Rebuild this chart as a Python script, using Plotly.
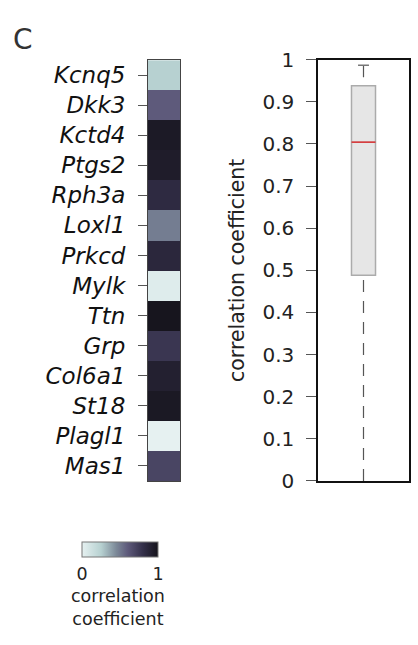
import plotly.graph_objects as go

genes = ["Kcnq5", "Dkk3", "Kctd4", "Ptgs2", "Rph3a", "Loxl1", "Prkcd",
         "Mylk", "Ttn", "Grp", "Col6a1", "St18", "Plagl1", "Mas1"]
corr = [0.25, 0.60, 0.955, 0.938, 0.838, 0.488, 0.86,
        0.04, 0.987, 0.77, 0.91, 0.96, 0.0, 0.70]

# boxplot summary
box_min = [0.0]
box_q1 = [0.488]
box_median = [0.804]
box_q3 = [0.938]
box_max = [0.987]

y_ticks = [0, 0.1, 0.2, 0.3, 0.4, 0.5, 0.6, 0.7, 0.8, 0.9, 1]
y_ticktext = ["0", "0.1", "0.2", "0.3", "0.4", "0.5", "0.6", "0.7", "0.8", "0.9", "1"]

FONT = "DejaVu Sans"
colorscale = [[0.0, "#e6f1f1"], [0.25, "#b7d1d1"], [0.45, "#7c8998"],
              [0.6, "#5e5a7b"], [0.8, "#34304a"], [1.0, "#15131b"]]

fig = go.Figure()

fig.add_trace(go.Heatmap(
    z=[[v] for v in corr], y=genes, x=[0],
    zmin=0, zmax=1, colorscale=colorscale,
    xaxis="x", yaxis="y",
    colorbar=dict(
        orientation="h", x=120/418, xanchor="center",
        y=1-551/645, yanchor="top", yref="paper",
        len=76, lenmode="pixels", thickness=15,
        outlinecolor="#777", outlinewidth=1,
        tickvals=[0, 1], ticktext=["0", "1"],
        ticks="outside", ticklen=2, tickcolor="rgba(0,0,0,0)",
        tickfont=dict(family=FONT, size=17.5, color="#222"),
        xpad=0, ypad=0,
    ),
    showscale=True,
))

# box (body only) from the summary
fig.add_trace(go.Box(
    x=[0], q1=box_q1, median=box_median, q3=box_q3,
    lowerfence=box_q1, upperfence=box_q3,
    width=0.264, fillcolor="#e6e6e6",
    line=dict(color="#ababab", width=1.5),
    xaxis="x2", yaxis="y2", showlegend=False, hoverinfo="skip",
))

# dashed whiskers
fig.add_trace(go.Scatter(
    x=[0, 0], y=[box_min[0], box_q1[0]], mode="lines",
    line=dict(color="#555", width=1.2, dash="12px,9px"),
    xaxis="x2", yaxis="y2", showlegend=False, hoverinfo="skip"))
fig.add_trace(go.Scatter(
    x=[0, 0], y=[box_max[0], box_q3[0]], mode="lines",
    line=dict(color="#555", width=1.2, dash="12px,9px"),
    xaxis="x2", yaxis="y2", showlegend=False, hoverinfo="skip"))
# staple at max
fig.add_trace(go.Scatter(
    x=[-0.06, 0.06], y=[box_max[0], box_max[0]], mode="lines",
    line=dict(color="#777", width=1.5),
    xaxis="x2", yaxis="y2", showlegend=False, hoverinfo="skip"))
# median in red
fig.add_trace(go.Scatter(
    x=[-0.132, 0.132], y=[box_median[0], box_median[0]], mode="lines",
    line=dict(color="#e41a1c", width=1.3),
    xaxis="x2", yaxis="y2", showlegend=False, hoverinfo="skip"))

fig.update_layout(
    width=418, height=645,
    margin=dict(l=0, r=0, t=0, b=0),
    paper_bgcolor="white", plot_bgcolor="white",
    showlegend=False,
    xaxis=dict(domain=[148/418, 180/418], showticklabels=False, ticks="",
               showgrid=False, zeroline=False, showline=True, mirror=True,
               linecolor="#444", linewidth=1),
    yaxis=dict(domain=[1-487/645, 1-50/645], autorange="reversed",
               type="category", categoryorder="array", categoryarray=genes,
               ticks="outside", ticklen=9, tickcolor="#555", tickwidth=1,
               tickfont=dict(family=FONT, size=23, color="#111", style="italic"),
               ticklabelstandoff=8,
               showgrid=False, zeroline=False, showline=True, mirror=True,
               linecolor="#444", linewidth=1),
    xaxis2=dict(domain=[318/418, 409/418], range=[-0.5, 0.5],
                showticklabels=False, ticks="", showgrid=False, zeroline=False,
                showline=True, mirror=True, linecolor="#111", linewidth=1.5),
    yaxis2=dict(domain=[1-487/645, 1-49.5/645], range=[0, 1], anchor="x2",
                tickvals=y_ticks, ticktext=y_ticktext,
                ticks="outside", ticklen=10, tickcolor="#555", tickwidth=1,
                tickfont=dict(family=FONT, size=20, color="#222"),
                ticklabelstandoff=8,
                showgrid=False, zeroline=False, showline=True, mirror=True,
                linecolor="#111", linewidth=1.5,
                title=dict(text="correlation coefficient",
                           font=dict(family=FONT, size=20.5, color="#222"),
                           standoff=12)),
    annotations=[
        dict(text="C", x=11/418, y=1-29/645, xref="paper", yref="paper",
             xanchor="left", yanchor="middle", showarrow=False,
             font=dict(family=FONT, size=28, color="#333")),
        dict(text="correlation<br>coefficient", x=118/418, y=1-618/645,
             xref="paper", yref="paper", xanchor="center", yanchor="middle",
             showarrow=False, align="center",
             font=dict(family=FONT, size=17.5, color="#222")),
    ],
)

fig.write_html("out.html")
